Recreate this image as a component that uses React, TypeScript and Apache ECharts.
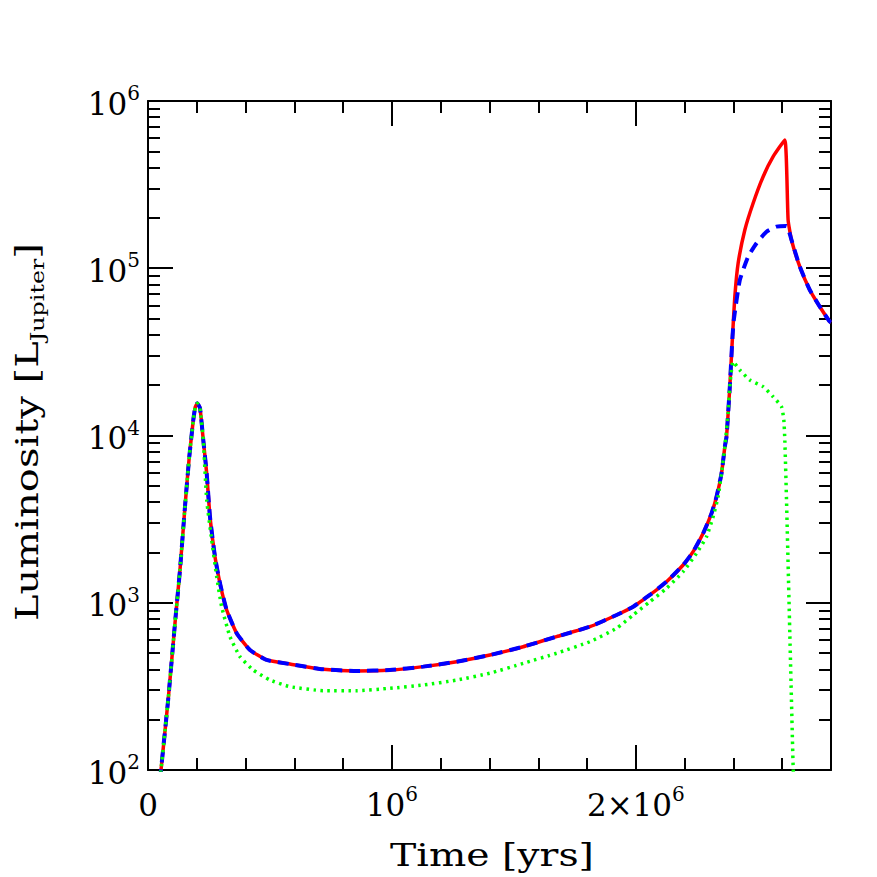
import React, { useEffect, useRef } from "react";
import * as echarts from "echarts";

// ---- Data (time in years, luminosity in L_Jupiter) ----
// Shared by all three curves: initial rise and the first peak
const sharedTime = [49200, 53300, 83200, 110700, 131100, 151600, 169300, 185700, 193900, 202000, 213100, 226600];
const sharedLum = [87, 100, 268, 756, 1570, 3752, 7470, 12380, 14800, 15570, 14600, 9400];

// Shared by red and blue: decay, plateau and second rise
const redBlueMidTime = [240600, 254100, 274600, 295100, 322500, 363500, 418000, 486500, 582000, 718400, 855300, 991800, 1128300, 1265200, 1401600, 1538100, 1675000, 1811500, 1920900, 1988900, 2057400, 2125800, 2193900, 2234800, 2275800, 2310200, 2330700, 2351200, 2364800, 2371700, 2378300, 2385200, 2396200];
const redBlueMidLum = [5943, 3269, 1885, 1307, 905, 657, 522, 455, 430, 400, 391, 396, 415, 444, 487, 546, 627, 719, 845, 947, 1113, 1336, 1682, 2020, 2601, 3425, 4306, 5943, 8575, 9835, 13570, 19580, 38970];

// Red (solid) second peak
const redPeakTime = [2405700, 2419300, 2446700, 2480700, 2521700, 2562700, 2610700, 2624200];
const redPeakLum = [67570, 107100, 169300, 244600, 352700, 464500, 584600, 194300];

// Blue (dashed) second peak
const bluePeakTime = [2401500, 2426200, 2460200, 2494600, 2535600, 2576600, 2617600];
const bluePeakLum = [49050, 85050, 117200, 141000, 165400, 177200, 178900];

// Red and blue common final decline
const redBlueEndTime = [2638100, 2672100, 2713100, 2754100, 2795100, 2800000];
const redBlueEndLum = [147500, 102200, 74130, 58900, 47910, 47370];

// Green (dotted) after the first peak
const greenMidTime = [240600, 261100, 281600, 302000, 336100, 377000, 431600, 500000, 582000, 718400, 855300, 991800, 1128300, 1265200, 1401600, 1538100, 1675000, 1811500, 1920900, 1988900, 2057400, 2125800, 2193900, 2248800, 2289800, 2316800, 2337300, 2351200, 2364800, 2378300, 2385200, 2398600];
const greenMidLum = [4115, 2372, 1431, 947, 627, 476, 396, 345, 315, 298, 298, 308, 322, 345, 379, 434, 499, 585, 703, 845, 1015, 1220, 1534, 1976, 2483, 3269, 4306, 5943, 8575, 13570, 19580, 27630];
const greenEndTime = [2426200, 2467200, 2521700, 2562700, 2597100, 2606600, 2610700, 2617600, 2631100, 2644700, 2647500];
const greenEndLum = [24640, 21470, 19580, 17060, 14870, 12380, 9400, 4115, 659, 105, 87];

// Tick labels: [mantissa text, exponent superscript]
const xTickValues = [0, 1000000, 2000000];
const xTickBase = ["0", "10", "2\u00d710"];
const xTickExp = ["", "6", "6"];
const yTickValues = [100, 1000, 10000, 100000, 1000000];
const yTickBase = ["10", "10", "10", "10", "10"];
const yTickExp = ["2", "3", "4", "5", "6"];

const xTitle = "Time [yrs]";
const yTitleMain = "Luminosity [L";
const yTitleSub = "Jupiter";

const pairs = (t: number[], l: number[]) => t.map((v, i) => [v, l[i]]);

const FONT = '"DejaVu Serif", serif';

const tickRich = {
  b: { fontFamily: FONT, fontSize: 31, lineHeight: 36, verticalAlign: "bottom", color: "#000" },
  s: { fontFamily: FONT, fontSize: 20, lineHeight: 22, verticalAlign: "top", color: "#000" },
};

export default function App() {
  const ref = useRef<HTMLDivElement>(null);
  useEffect(() => {
    if (!ref.current) return;
    const chart = echarts.init(ref.current, undefined, { renderer: "svg" });

    const redData = [
      ...pairs(sharedTime, sharedLum),
      ...pairs(redBlueMidTime, redBlueMidLum),
      ...pairs(redPeakTime, redPeakLum),
      ...pairs(redBlueEndTime, redBlueEndLum),
    ];
    const blueData = [
      ...pairs(sharedTime, sharedLum),
      ...pairs(redBlueMidTime, redBlueMidLum),
      ...pairs(bluePeakTime, bluePeakLum),
      ...pairs(redBlueEndTime, redBlueEndLum),
    ];
    const greenData = [
      ...pairs(sharedTime, sharedLum),
      ...pairs(greenMidTime, greenMidLum),
      ...pairs(greenEndTime, greenEndLum),
    ];

    const black = "#000";
    const baseX = {
      type: "value" as const,
      min: 0,
      max: 2800000,
      splitLine: { show: false },
      axisLine: { show: false, onZero: false },
      axisLabel: { show: false },
    };
    const xMajorTick = { show: true, inside: true, length: 25, lineStyle: { color: black, width: 2 } };
    const xMinorTick = { show: true, inside: true, length: 12, lineStyle: { color: black, width: 2 } };

    const yBase = {
      type: "log" as const,
      logBase: 10,
      min: 100,
      max: 1000000,
      splitLine: { show: false },
      minorSplitLine: { show: false },
      axisLine: { show: true, onZero: false, lineStyle: { color: black, width: 2 } },
      axisTick: { show: true, inside: true, length: 25, lineStyle: { color: black, width: 2 } },
      minorTick: { show: true, splitNumber: 9, length: 12, lineStyle: { color: black, width: 2 } },
    };

    const lineCommon = {
      type: "line" as const,
      showSymbol: false,
      symbol: "none",
      clip: true,
      smooth: 0.15,
    };

    chart.setOption({
      animation: false,
      backgroundColor: "#fff",
      grid: { left: 148, right: 46, top: 101, bottom: 107, containLabel: false },
      xAxis: [
        {
          ...baseX,
          position: "bottom",
          interval: 1000000,
          axisLine: { show: true, onZero: false, lineStyle: { color: black, width: 2 } },
          axisTick: xMajorTick,
          axisLabel: {
            show: true,
            margin: 14,
            color: black,
            rich: tickRich,
            formatter: (v: number) => {
              const i = xTickValues.indexOf(v);
              if (i < 0) return "";
              return xTickExp[i] ? `{b|${xTickBase[i]}}{s|${xTickExp[i]}}` : `{b|${xTickBase[i]}}`;
            },
          },
        },
        { ...baseX, position: "bottom", interval: 200000, axisTick: xMinorTick },
        {
          ...baseX,
          position: "top",
          interval: 1000000,
          axisLine: { show: true, onZero: false, lineStyle: { color: black, width: 2 } },
          axisTick: xMajorTick,
        },
        { ...baseX, position: "top", interval: 200000, axisTick: xMinorTick },
      ],
      yAxis: [
        {
          ...yBase,
          position: "left",
          axisLabel: {
            show: true,
            margin: 8,
            color: black,
            rich: tickRich,
            formatter: (v: number) => {
              const i = yTickValues.findIndex((t) => Math.abs(t - v) / t < 1e-6);
              return i >= 0 ? `{b|${yTickBase[i]}}{s|${yTickExp[i]}}` : "";
            },
          },
        },
        { ...yBase, position: "right", axisLabel: { show: false } },
      ],
      series: [
        {
          ...lineCommon,
          name: "red",
          data: redData,
          lineStyle: { color: "#ff0000", width: 3.5, type: "solid" },
          z: 2,
        },
        {
          ...lineCommon,
          name: "blue",
          data: blueData,
          lineStyle: { color: "#0000ff", width: 4, type: [11, 7], cap: "butt" },
          z: 3,
        },
        {
          ...lineCommon,
          name: "green",
          data: greenData,
          lineStyle: { color: "#00ff00", width: 3.5, type: [2.5, 4.5], cap: "butt" },
          z: 4,
        },
      ],
      graphic: [
        {
          type: "text",
          x: 492,
          y: 855,
          scaleX: 1.23,
          style: {
            text: xTitle,
            font: `32px ${FONT}`,
            fill: black,
            textAlign: "center",
            textVerticalAlign: "middle",
          },
        },
        {
          type: "text",
          x: 27,
          y: 432,
          rotation: Math.PI / 2,
          scaleX: 1.25,
          style: {
            text: `{m|${yTitleMain}}{s|${yTitleSub}}{m|]}`,
            fill: black,
            textAlign: "center",
            textVerticalAlign: "middle",
            rich: {
              m: { fontFamily: FONT, fontSize: 32, lineHeight: 40, verticalAlign: "middle", fill: black },
              s: { fontFamily: FONT, fontSize: 19, lineHeight: 20, verticalAlign: "bottom", fill: black },
            },
          },
        },
      ],
    });
    return () => chart.dispose();
  }, []);
  return (
    <div
      ref={ref}
      style={{ position: "fixed", left: 0, top: 0, width: 877, height: 877, background: "#fff" }}
    />
  );
}
